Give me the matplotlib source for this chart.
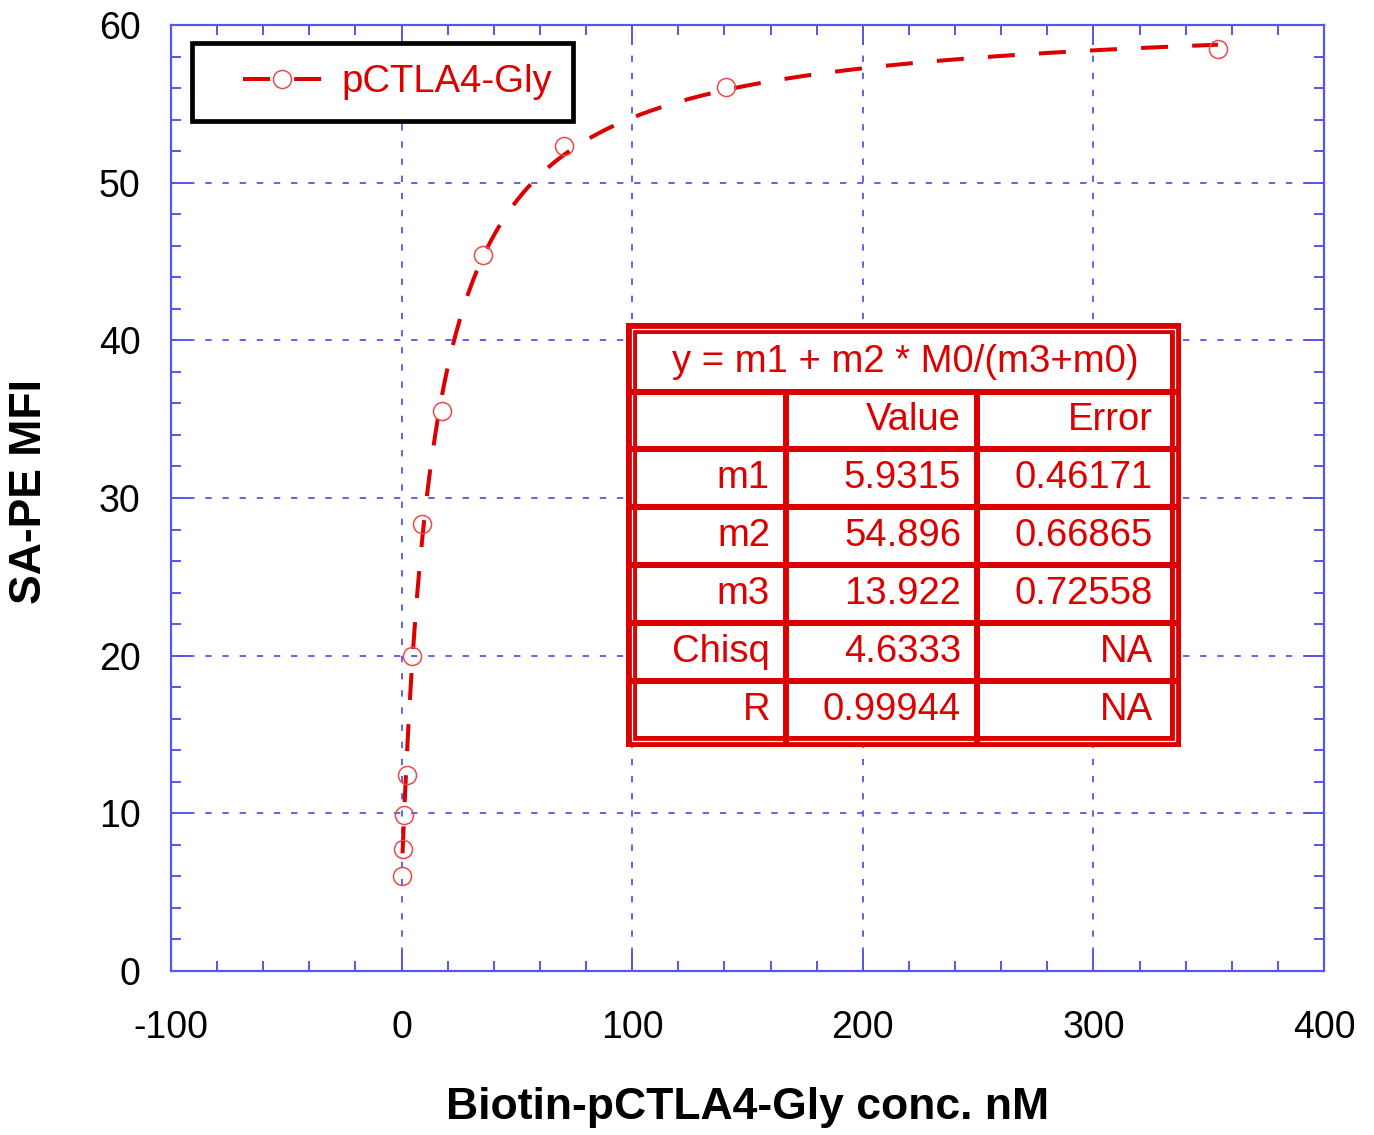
import matplotlib
matplotlib.use("Agg")
import matplotlib.pyplot as plt
from matplotlib.patches import Rectangle
from matplotlib.ticker import MultipleLocator
from matplotlib.legend_handler import HandlerLine2D
import numpy as np

plt.rcParams['font.family'] = ['Liberation Sans', 'DejaVu Sans']
plt.rcParams['axes.unicode_minus'] = False

# ---- data ----
conc_nM = [0.0, 0.55, 1.1, 2.2, 4.4, 8.8, 17.6, 35.2, 70.4, 140.8, 354.0]
mfi = [6.03, 7.74, 9.89, 12.43, 19.98, 28.35, 35.52, 45.41, 52.32, 56.07, 58.48]
series_name = "pCTLA4-Gly"

fit_equation = "y = m1 + m2 * M0/(m3+m0)"
table_header = ["", "Value", "Error"]
param_names = ["m1", "m2", "m3", "Chisq", "R"]
param_values = ["5.9315", "54.896", "13.922", "4.6333", "0.99944"]
param_errors = ["0.46171", "0.66865", "0.72558", "NA", "NA"]
m1, m2, m3 = 5.9315, 54.896, 13.922
fit_range = (0.4, 354.0)

x_label = "Biotin-pCTLA4-Gly conc. nM"
y_label = "SA-PE MFI"

# ---- style ----
RED = '#dc0000'
MARKER_RED = '#ec4a4a'
BLUE = '#5656ea'
W, H = 1374, 1135

fig = plt.figure(figsize=(W / 100, H / 100), dpi=100)
ax = fig.add_axes([171 / W, (H - 971) / H, 1153 / W, 946 / H])

# fit curve (model from table parameters)
xf = np.linspace(fit_range[0], fit_range[1], 2000)
yf = m1 + m2 * xf / (m3 + xf)
ax.plot(xf, yf, color=RED, lw=2.9, linestyle=(0, (6.7, 6.0)), zorder=3)
ax.plot(conc_nM, mfi, linestyle='none', marker='o', ms=13, mfc='none',
        mec=MARKER_RED, mew=1.1, zorder=4)

# legend handle
leg_line, = ax.plot([], [], color=RED, lw=2.9, linestyle=(0, (6.7, 6.0)), marker='o', ms=13,
                    mfc='none', mec=MARKER_RED, mew=1.1, label=series_name)

ax.set_xlim(-100, 400)
ax.set_ylim(0, 60)
ax.xaxis.set_major_locator(MultipleLocator(100))
ax.xaxis.set_minor_locator(MultipleLocator(20))
ax.yaxis.set_major_locator(MultipleLocator(10))
ax.yaxis.set_minor_locator(MultipleLocator(2))

ax.grid(True, which='major', color=BLUE, lw=1.3, linestyle=(0, (3.5, 6.0)))
for s in ax.spines.values():
    s.set_color(BLUE)
    s.set_linewidth(1.6)
ax.tick_params(which='both', direction='in', top=True, right=True, color=BLUE, width=1.4)
ax.tick_params(which='major', length=14.5)
ax.tick_params(which='minor', length=7.5)
ax.tick_params(axis='x', which='major', labelsize=27, pad=28)
ax.tick_params(axis='y', which='major', labelsize=27, pad=22)

ax.set_xlabel(x_label, fontsize=32, fontweight='bold', va='center')
ax.xaxis.set_label_coords(0.5, -0.1438)
ax.set_ylabel(y_label, fontsize=32, fontweight='bold', va='center')
ax.yaxis.set_label_coords(-0.1223, 0.507)

leg = ax.legend(handles=[leg_line], loc='upper left', bbox_to_anchor=(0.018, 0.981),
                borderaxespad=0, fontsize=27.5, frameon=True, fancybox=False,
                framealpha=1, handlelength=2.85, handletextpad=0.52, borderpad=0.55,
                handler_map={leg_line: HandlerLine2D(xpad=0.785)})
leg.get_frame().set_edgecolor('black')
leg.get_frame().set_linewidth(3.4)
for t in leg.get_texts():
    t.set_color(RED)

# ---- fit results table ----
tx0, ty0, tx1, ty1 = 626, 323, 1181, 747
tw, th = tx1 - tx0, ty1 - ty0
tax = fig.add_axes([tx0 / W, (H - ty1) / H, tw / W, th / H])
tax.set_xlim(0, tw)
tax.set_ylim(th, 0)
tax.axis('off')
tax.add_patch(Rectangle((0, 0), tw, th, fc=RED, ec='none'))
tax.add_patch(Rectangle((11, 11), tw - 22, th - 22, fc='white', ec='none'))
tax.add_patch(Rectangle((6, 6), tw - 12, th - 12, fc='none', ec='white', lw=0.9))

row_seps = [69, 126, 184, 242, 300, 358]
for ys in row_seps:
    tax.add_patch(Rectangle((0, ys - 3), tw, 6, fc=RED, ec='none'))
col_seps = [160, 351]
for xs in col_seps:
    tax.add_patch(Rectangle((xs - 3, 66), 6, th - 66, fc=RED, ec='none'))

fs = 27.5
tax.text(tw / 2 + 2, 38.5, fit_equation, color=RED, fontsize=fs, ha='center', va='center')
col_right = [144, 335, 527]
row_centers = [97.5, 155, 213, 271, 329, 387]
rows = [table_header] + [[n, v, e] for n, v, e in zip(param_names, param_values, param_errors)]
for r, yc in zip(rows, row_centers):
    for txt, xr in zip(r, col_right):
        tax.text(xr, yc, txt, color=RED, fontsize=fs, ha='right', va='center')

fig.savefig('out.png', dpi=100)
